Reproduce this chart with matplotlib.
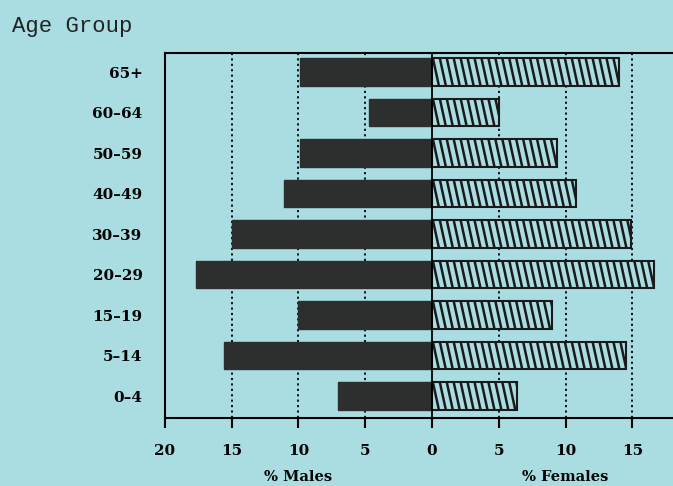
import numpy as np
import matplotlib.pyplot as plt
from matplotlib.collections import LineCollection
from matplotlib.transforms import blended_transform_factory

# age groups, bottom to top
age_groups = ['0-4', '5-14', '15-19', '20-29', '30-39', '40-49', '50-59', '60-64', '65+']
males = [7.0, 15.6, 10.0, 17.7, 15.0, 11.1, 9.9, 4.7, 9.9]
females = [6.4, 14.5, 9.0, 16.6, 14.9, 10.8, 9.4, 5.0, 14.0]
tick_vals = [-20, -15, -10, -5, 0, 5, 10, 15]

bg = '#a9dde2'
dark = '#2c2f2e'
bar_h = 0.68

fig = plt.figure(figsize=(6.73, 4.86), dpi=100, facecolor=bg)
ax = fig.add_axes([0.245, 0.14, 0.755, 0.751])
ax.set_facecolor(bg)

y = np.arange(len(age_groups))
ax.barh(y, [-m for m in males], height=bar_h, color=dark, edgecolor=dark, zorder=3)
fbars = ax.barh(y, females, height=bar_h, color=bg, edgecolor='#1a1a1a',
                linewidth=1.5, zorder=3)

# steep hatching inside the female bars
step = 0.52    # spacing between hatch lines (x units)
lean = 0.45    # horizontal drift of a line over the bar height
for rect, yc, f in zip(fbars, y, females):
    top, bot = yc + bar_h / 2, yc - bar_h / 2
    starts = np.arange(-lean, f + step, step)
    segs = [[(s, top), (s + lean, bot)] for s in starts]
    lc = LineCollection(segs, colors='#1a1a1a', linewidths=1.8, zorder=4)
    ax.add_collection(lc)
    lc.set_clip_path(rect)

# dotted grid, solid zero line
for v in tick_vals[1:]:
    if v == 0:
        ax.axvline(0, color='black', lw=1.3, zorder=6)
    else:
        ax.axvline(v, color='black', lw=1.3, ls=(0, (1.2, 1.8)), zorder=1)

ax.set_xlim(-20, 18.05)
ax.set_ylim(-0.54, 8.47)

ax.set_xticks(tick_vals)
ax.set_xticklabels([str(abs(v)) for v in tick_vals])
ax.set_yticks(y)
ax.set_yticklabels([g.replace('-', '\u2013') for g in age_groups])

for lab in ax.get_xticklabels() + ax.get_yticklabels():
    lab.set_fontfamily('DejaVu Serif')
    lab.set_fontweight('bold')
    lab.set_fontsize(11)

ax.tick_params(axis='x', direction='out', length=7, width=1.5, pad=12, colors='black')
ax.tick_params(axis='y', length=0, pad=16)

ax.spines['right'].set_visible(False)
for s in ['left', 'top', 'bottom']:
    ax.spines[s].set_linewidth(1.5)

trans = blended_transform_factory(ax.transData, fig.transFigure)
ax.text(-10, 0.018, '% Males', transform=trans, ha='center', va='center',
        fontsize=10.5, family='DejaVu Serif', weight='bold')
ax.text(10, 0.018, '% Females', transform=trans, ha='center', va='center',
        fontsize=10.5, family='DejaVu Serif', weight='bold')

fig.text(0.018, 0.945, 'Age Group', ha='left', va='center', fontsize=16,
         family='Liberation Mono', color='#222222')

fig.savefig('out.png', dpi=100, facecolor=bg)
